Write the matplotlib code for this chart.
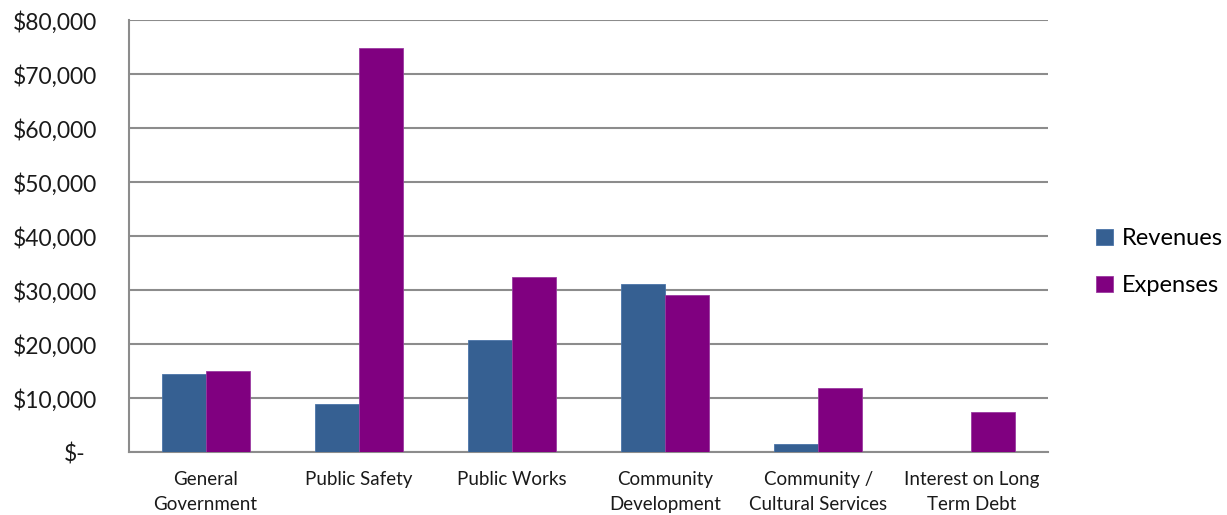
import matplotlib
matplotlib.use("Agg")
import matplotlib.pyplot as plt
import matplotlib.transforms as mtransforms
import numpy as np

categories = ["General\nGovernment", "Public Safety", "Public Works",
              "Community\nDevelopment", "Community /\nCultural Services",
              "Interest on Long\nTerm Debt"]
revenues = [14400, 8900, 20700, 31200, 1500, 0]
expenses = [15000, 74800, 32350, 29000, 11800, 7500]
yticks = [0, 10000, 20000, 30000, 40000, 50000, 60000, 70000, 80000]

plt.rcParams['font.family'] = ['Lato', 'DejaVu Sans']

fig = plt.figure(figsize=(12.27, 5.15), dpi=100)
ax = fig.add_axes([0.1051, 0.1223, 0.749, 0.8387])

x = np.arange(len(categories))
w = 0.287
ax.bar(x - w / 2, revenues, w, color="#366092", edgecolor="#4a74a8", lw=0.6,
       label="Revenues", zorder=3)
ax.bar(x + w / 2, expenses, w, color="#800080", edgecolor="#9a3aa0", lw=0.6,
       label="Expenses", zorder=3)

ax.set_xlim(-0.5, len(categories) - 0.5)
ax.set_ylim(0, 80000)
ax.set_yticks(yticks)
ax.set_yticklabels(["$-"] + ["${:,}".format(v) for v in yticks[1:]])
ax.set_xticks(x)
ax.set_xticklabels(categories, fontsize=13.5, linespacing=1.55)
ax.tick_params(axis='y', length=0, pad=23, labelsize=16.5)
ax.tick_params(axis='x', length=0, pad=14)
for lab in ax.get_yticklabels():
    lab.set_horizontalalignment('right')
    lab.set_color('#1a1a1a')
for lab in ax.get_xticklabels():
    lab.set_color('#1a1a1a')

# shift "$-" so its dash lines up like an accounting format
zl = ax.get_yticklabels()[0]
zl.set_transform(zl.get_transform() +
                 mtransforms.ScaledTranslation(-0.12, 0, fig.dpi_scale_trans))

ax.grid(axis='y', color='#8c8c8c', lw=1.5, zorder=0)
ax.set_axisbelow(True)
for s in ['top', 'right']:
    ax.spines[s].set_visible(False)
ax.spines['left'].set_color('#8c8c8c')
ax.spines['bottom'].set_color('#8c8c8c')
ax.spines['left'].set_linewidth(1.5)
ax.spines['bottom'].set_linewidth(1.5)

fig.legend(loc='center left', bbox_to_anchor=(0.876, 0.491), frameon=False,
           fontsize=17, handlelength=0.7, handleheight=0.7, handletextpad=0.4,
           labelspacing=1.1)

fig.savefig("out.png", dpi=100)
